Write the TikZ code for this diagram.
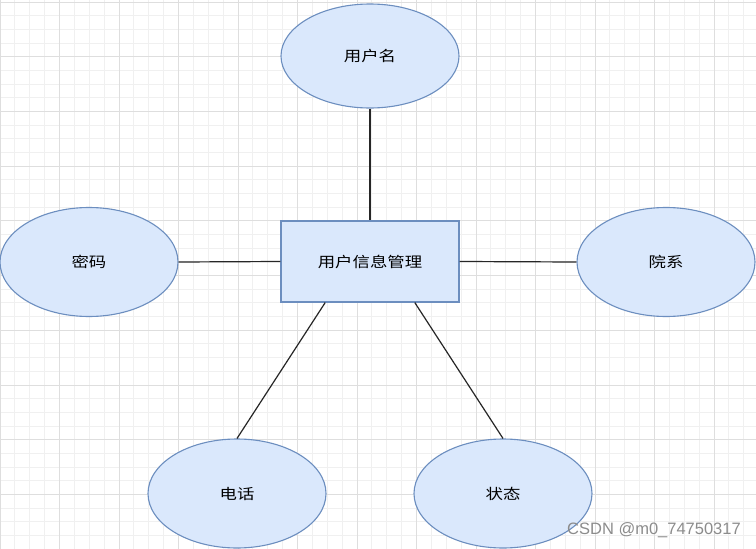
\documentclass[tikz,border=0pt]{standalone}
\usepackage{graphicx}
\usepackage{fontspec}
\newfontfamily\cjk{Noto Sans CJK SC}
\newfontfamily\wm{Liberation Sans}
\usetikzlibrary{shapes.geometric,calc}
\newcommand{\wide}[1]{\scalebox{1.2}[1]{#1}}
\begin{document}
\begin{tikzpicture}[x=1pt,y=-1pt,
  attr/.style={ellipse, draw=drawblue, fill=drawfill, line width=1.1pt, minimum width=178pt, minimum height=109pt, inner sep=0pt, font=\cjk\fontsize{14.5}{16}\selectfont},
  boxent/.style={rectangle, draw=drawblue, fill=drawfill, line width=1.1pt, minimum width=178pt, minimum height=81pt, inner sep=0pt, font=\cjk\fontsize{14.5}{16}\selectfont},
  link/.style={draw=black!85, line width=1.2pt},
  minorgrid/.style={draw=black!6, line width=0.8pt},
  majorgrid/.style={draw=black!13, line width=0.8pt}]
\definecolor{drawblue}{HTML}{6C8EBF}
\definecolor{drawfill}{HTML}{DAE8FC}
\useasboundingbox (0,0) rectangle (756,549);
\fill[white] (0,0) rectangle (756,549);
% grid
\foreach \i in {0,...,51} {
  \pgfmathsetmacro{\gx}{\i*59.5/4}
  \draw[minorgrid] (\gx,0) -- (\gx,549);
}
\foreach \i in {0,...,40} {
  \pgfmathsetmacro{\gy}{2+\i*54.7/4}
  \draw[minorgrid] (0,\gy) -- (756,\gy);
}
\foreach \i in {0,...,12} {
  \pgfmathsetmacro{\gx}{\i*59.5}
  \draw[majorgrid] (\gx,0) -- (\gx,549);
}
\foreach \i in {0,...,10} {
  \pgfmathsetmacro{\gy}{2+\i*54.7}
  \draw[majorgrid] (0,\gy) -- (756,\gy);
}
% nodes
\node[boxent] (main) at (370,261.5) {\wide{用户信息管理}};
\node[attr, minimum height=104pt] (name) at (370,56) {\wide{用户名}};
\node[attr] (pwd) at (89,262) {\wide{密码}};
\node[attr] (dept) at (666,262) {\wide{院系}};
\node[attr] (tel) at (237,493.5) {\wide{电话}};
\node[attr] (state) at (503,493.5) {\wide{状态}};
\coordinate (bl) at ($(main.south west)!0.25!(main.south east)$);
\coordinate (br) at ($(main.south west)!0.75!(main.south east)$);
% connectors
\draw[link] (name.south) -- (main.north);
\draw[link] (pwd.east) -- (main.west);
\draw[link] (main.east) -- (dept.west);
\draw[link] (bl) -- (tel.north);
\draw[link] (br) -- (state.north);
% watermark
\node[font=\wm\fontsize{16.5}{18}\selectfont, text=black!45, anchor=east, inner sep=0pt] (mark) at (741,530) {CSDN @m0\_74750317};
\end{tikzpicture}
\end{document}
